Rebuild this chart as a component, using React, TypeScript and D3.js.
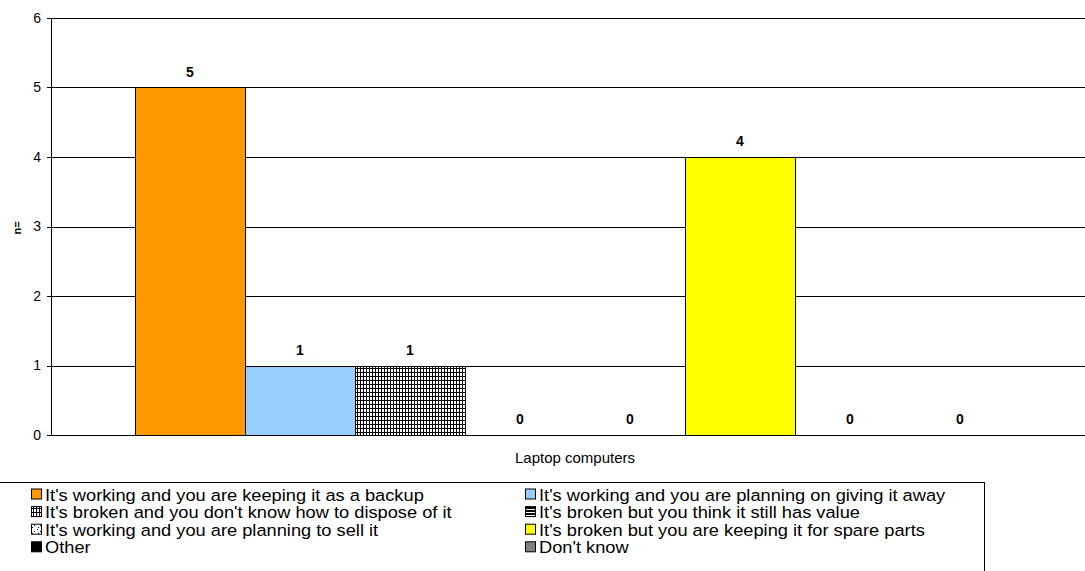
import React from "react";
import * as d3 from "d3";

// Survey responses for laptop computers
const categories = ["Laptop computers"];
const seriesNames = [
  "It's working and you are keeping it as a backup",
  "It's working and you are planning on giving it away",
  "It's broken and you don't know how to dispose of it",
  "It's broken but you think it still has value",
  "It's working and you are planning to sell it",
  "It's broken but you are keeping it for spare parts",
  "Other",
  "Don't know",
];
const seriesValues = [5, 1, 1, 0, 0, 4, 0, 0];
const seriesFills = [
  "#FF9900",
  "#99CCFF",
  "url(#smallGrid)",
  "url(#hStripes)",
  "url(#confetti)",
  "#FFFF00",
  "#000000",
  "#808080",
];
const yTicks = [0, 1, 2, 3, 4, 5, 6];

const W = 1085;
const H = 571;
const plot = { left: 51, right: 1099, top: 18, bottom: 435 };

export default function App() {
  const y = d3.scaleLinear().domain([0, 6]).range([plot.bottom, plot.top]);
  const xCat = d3.scaleBand().domain(categories).range([plot.left, plot.right]);
  const xSeries = d3
    .scaleBand()
    .domain(seriesNames)
    .range([0, xCat.bandwidth()])
    .paddingInner(0)
    .paddingOuter(84 / 110);

  const font = "Arial, 'Liberation Sans', sans-serif";
  const legendRows = d3.range(0, seriesNames.length, 2);

  return (
    <div style={{ position: "absolute", left: 0, top: 0 }}>
      <svg width={W} height={H} style={{ display: "block", background: "#fff" }} fontFamily={font}>
        <defs>
          <pattern id="smallGrid" width={3} height={4} patternUnits="userSpaceOnUse">
            <rect width={3} height={4} fill="#fff" />
            <rect x={0} y={0} width={1} height={4} fill="#000" />
            <rect x={0} y={0} width={3} height={1} fill="#000" />
          </pattern>
          <pattern id="hStripes" width={4} height={3} patternUnits="userSpaceOnUse">
            <rect width={4} height={3} fill="#fff" />
            <rect x={0} y={0} width={4} height={2} fill="#000" />
          </pattern>
          <pattern id="confetti" width={6} height={6} patternUnits="userSpaceOnUse">
            <rect width={6} height={6} fill="#fff" />
            <rect x={1} y={1} width={1} height={1} fill="#000" />
            <rect x={4} y={3} width={1} height={1} fill="#000" />
            <rect x={2} y={5} width={1} height={1} fill="#000" />
          </pattern>
        </defs>

        {/* horizontal gridlines */}
        {yTicks
          .filter((t) => t > 0)
          .map((t) => (
            <line
              key={`g${t}`}
              x1={plot.left}
              x2={plot.right}
              y1={Math.round(y(t)) + 0.5}
              y2={Math.round(y(t)) + 0.5}
              stroke="#000"
              strokeWidth={1}
            />
          ))}

        {/* bars */}
        {categories.map((c) =>
          seriesNames.map((s, i) => {
            const x0 = (xCat(c) ?? 0) + (xSeries(s) ?? 0);
            const v = seriesValues[i];
            const top = y(v);
            return (
              <g key={`${c}-${s}`}>
                {v > 0 && (
                  <rect
                    x={Math.round(x0) + 0.5}
                    y={Math.round(top) + 0.5}
                    width={Math.round(xSeries.bandwidth())}
                    height={Math.round(y(0)) - Math.round(top)}
                    fill={seriesFills[i]}
                    stroke="#000"
                    strokeWidth={1}
                  />
                )}
                <text
                  x={x0 + xSeries.bandwidth() / 2}
                  y={top - 11}
                  textAnchor="middle"
                  fontSize={14}
                  fontWeight="bold"
                  fill="#000"
                >
                  {v}
                </text>
              </g>
            );
          })
        )}

        {/* axes */}
        <line x1={plot.left + 0.5} x2={plot.left + 0.5} y1={plot.top} y2={plot.bottom + 0.5} stroke="#000" />
        <line x1={plot.left} x2={plot.right} y1={plot.bottom + 0.5} y2={plot.bottom + 0.5} stroke="#000" />
        {yTicks.map((t) => (
          <g key={`t${t}`}>
            <line
              x1={plot.left - 4}
              x2={plot.left}
              y1={Math.round(y(t)) + 0.5}
              y2={Math.round(y(t)) + 0.5}
              stroke="#000"
            />
            <text x={41} y={y(t)} dy="0.35em" textAnchor="end" fontSize={14} fill="#000">
              {t}
            </text>
          </g>
        ))}

        {/* axis titles */}
        <text
          transform={`translate(21, 228) rotate(-90)`}
          textAnchor="middle"
          fontSize={11}
          fontWeight="bold"
          fill="#000"
        >
          n=
        </text>
        {categories.map((c) => (
          <text
            key={c}
            x={(xCat(c) ?? 0) + xCat.bandwidth() / 2}
            y={463}
            textAnchor="middle"
            fontSize={15}
            fill="#000"
          >
            {c}
          </text>
        ))}

        {/* legend: entries in two columns, text set slightly wide */}
        <rect x={-2} y={482.5} width={986.5} height={100} fill="#fff" stroke="#000" />
        {legendRows.map((start, r) =>
          [0, 1].map((col) => {
            const i = start + col;
            const baseY = 500.5 + r * 17.6;
            const ix = col === 0 ? 31 : 525;
            return (
              <g key={`l${i}`}>
                <rect
                  x={ix + 0.5}
                  y={baseY - 11.5}
                  width={10}
                  height={10}
                  fill={seriesFills[i]}
                  stroke="#000"
                />
                <text
                  transform={`translate(${ix + 14}, ${baseY}) scale(1.12, 1)`}
                  fontSize={16.3}
                  fill="#000"
                >
                  {seriesNames[i]}
                </text>
              </g>
            );
          })
        )}
      </svg>
    </div>
  );
}
